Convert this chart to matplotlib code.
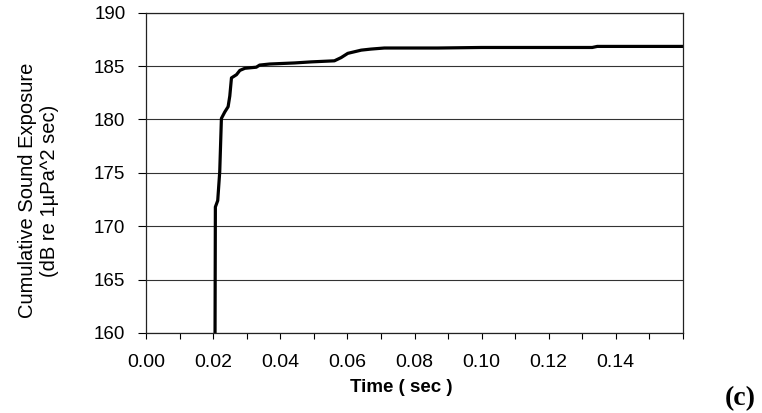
import numpy as np
import matplotlib
matplotlib.use("Agg")
import matplotlib.pyplot as plt

plt.rc('font', family='Liberation Sans')

# cumulative sound exposure curve
time_s = [0.0205, 0.0206, 0.0213, 0.0219, 0.0224, 0.0234, 0.0244, 0.0249,
          0.0254, 0.0269, 0.0279, 0.0294, 0.0328, 0.0338, 0.0368, 0.0442,
          0.0492, 0.0561, 0.0581, 0.0601, 0.0641, 0.0670, 0.0710, 0.0770,
          0.0870, 0.1000, 0.1330, 0.1345, 0.1600]
sel_db = [160.0, 171.8, 172.4, 175.1, 180.1, 180.7, 181.2, 182.2,
          183.9, 184.2, 184.6, 184.8, 184.9, 185.1, 185.2, 185.3,
          185.4, 185.5, 185.8, 186.2, 186.5, 186.6, 186.7, 186.7,
          186.7, 186.75, 186.75, 186.85, 186.85]

x_ticks = [0.00, 0.01, 0.02, 0.03, 0.04, 0.05, 0.06, 0.07, 0.08,
           0.09, 0.10, 0.11, 0.12, 0.13, 0.14, 0.15, 0.16]
x_ticklabels = ['0.00', '', '0.02', '', '0.04', '', '0.06', '', '0.08',
                '', '0.10', '', '0.12', '', '0.14', '', '']
y_ticks = [160, 165, 170, 175, 180, 185, 190]

fig = plt.figure(figsize=(7.62, 4.13), dpi=100)
ax = fig.add_axes([0.192, 0.194, 0.704, 0.775])

ax.plot(time_s, sel_db, color='black', linewidth=2.3, solid_joinstyle='round')

ax.set_xlim(0, 0.16)
ax.set_ylim(160, 190)
ax.set_xticks(x_ticks)
ax.set_xticklabels(x_ticklabels)
ax.set_yticks(y_ticks)
ax.yaxis.grid(True, color='#333333', linewidth=0.8)
ax.set_axisbelow(True)

ax.tick_params(axis='x', direction='out', length=4.5, width=0.8, pad=11, labelsize=14)
ax.tick_params(axis='y', direction='out', length=6, width=0.8, pad=9, labelsize=13.5)
for sp in ax.spines.values():
    sp.set_linewidth(0.9)
    sp.set_color('#222222')

fig.text(0.05, 0.538, 'Cumulative Sound Exposure\n(dB re 1\u00b5Pa^2 sec)',
         rotation=90, ha='center', va='center', multialignment='center',
         fontsize=14.5)
fig.text(0.526, 0.061, 'Time ( sec )', ha='center', va='center',
         fontsize=13.5, fontweight='bold')
fig.text(0.972, 0.036, '(c)', ha='center', va='center',
         fontsize=20, family='Liberation Serif', fontweight='bold')

fig.savefig('out.png', dpi=100)
